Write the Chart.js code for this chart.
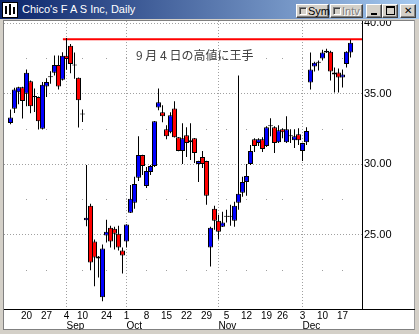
<!DOCTYPE html>
<html>
<head>
<meta charset="utf-8">
<title>Chico's F A S Inc, Daily</title>
<script src="https://cdn.jsdelivr.net/npm/chart.js@4.4.1/dist/chart.umd.min.js"></script>
<style>
  html, body { margin: 0; padding: 0; }
  body {
    position: relative;
    width: 419px;
    height: 334px;
    overflow: hidden;
    background: #d4d0c8;
    font-family: 'Liberation Sans', Arial, sans-serif;
  }
  .titlebar {
    position: absolute; left: 0; top: 0; width: 419px; height: 19px;
    background: linear-gradient(to right, #0a246a 0%, #a6caf0 100%);
  }
  .icon {
    position: absolute; left: 2px; top: 2px; width: 14px; height: 14px;
    background: #fff; border: 1px solid #000;
  }
  .icon i {
    position: absolute; width: 2px; background: #000;
  }
  .title {
    position: absolute; left: 22px; top: 0; height: 19px; line-height: 19px;
    color: #fff; font-size: 11px; white-space: nowrap;
  }
  .btn {
    position: absolute; top: 4px; height: 12px; box-sizing: content-box;
    background: #d4d0c8;
    border-top: 1px solid #fff; border-left: 1px solid #fff;
    border-right: 1px solid #404040; border-bottom: 1px solid #404040;
    box-shadow: inset -1px -1px 0 #808080;
    font-size: 11px; line-height: 12px; color: #000;
  }
  .btn .chk {
    position: absolute; left: 2px; top: 2px; width: 6px; height: 6px;
    border-top: 1px solid #808080; border-left: 1px solid #808080;
    border-right: 1px solid #fff; border-bottom: 1px solid #fff;
    box-shadow: inset 1px 1px 0 #404040;
  }
  .btn .lbl { position: absolute; left: 11px; top: 0; }
  .btn .lbl.off { color: #808080; text-shadow: 1px 1px 0 #fff; }
  .client {
    position: absolute; left: 3px; top: 20px; width: 412px; height: 310px;
    background: #fff;
    border-left: 1px solid #808080; border-top: 1px solid #808080;
    border-right: 1px solid #a0a0a0; border-bottom: 1px solid #808080;
    box-sizing: border-box;
  }
  #chart { position: absolute; left: 4px; top: 21px; }
  .note {
    position: absolute; left: 136px; top: 48px;
    font-family: 'Noto Sans CJK JP', sans-serif; font-size: 12px; line-height: 14px;
    color: #404040; white-space: nowrap;
  }
</style>
</head>
<body>
<div class="titlebar"></div>
<div class="icon"><i style="left:2px;top:3px;height:8px"></i><i style="left:6px;top:1px;height:11px"></i><i style="left:10px;top:4px;height:7px"></i></div>
<div class="title">Chico's F A S Inc, Daily</div>
<div class="btn" style="left:296px;width:31px"><span class="chk"></span><span class="lbl">Sym</span></div>
<div class="btn" style="left:330px;width:31px"><span class="chk"></span><span class="lbl off">Intv</span></div>
<div class="btn" style="left:366px;width:14px"><span style="position:absolute;left:4px;top:8px;width:6px;height:2px;background:#000"></span></div>
<div class="btn" style="left:382px;width:14px"><span style="position:absolute;left:3px;top:1px;width:7px;height:6px;border:1px solid #000;border-top-width:2px"></span></div>
<div class="btn" style="left:400px;width:14px"><span style="position:absolute;left:3px;top:-1px;font-family:'DejaVu Sans';font-size:10px;font-weight:bold;line-height:13px">✕</span></div>
<div class="client"></div>
<canvas id="chart" width="411" height="309"></canvas>
<div class="note">9 月 4 日の高値に王手</div>

<script>
// 日足データ（2001年8月14日〜12月19日）
const dates = [
  '8/14','8/15','8/16','8/17','8/20','8/21','8/22','8/23','8/24','8/27','8/28','8/29','8/30','8/31',
  '9/4','9/5','9/6','9/7','9/10','9/17','9/18','9/19','9/20','9/21','9/24','9/25','9/26','9/27','9/28',
  '10/1','10/2','10/3','10/4','10/5','10/8','10/9','10/10','10/11','10/12','10/15','10/16','10/17','10/18','10/19',
  '10/22','10/23','10/24','10/25','10/26','10/29','10/30','10/31',
  '11/1','11/2','11/5','11/6','11/7','11/8','11/9','11/12','11/13','11/14','11/15','11/16',
  '11/19','11/20','11/21','11/23','11/26','11/27','11/28','11/29','11/30',
  '12/3','12/4','12/5','12/6','12/7','12/10','12/11','12/12','12/13','12/14','12/17','12/18','12/19'
];
const opens = [
  32.93,33.94,35.11,35.46,35.00,35.89,34.76,34.76,32.51,35.51,36.17,36.48,37.04,35.99,
  37.68,38.40,36.99,36.13,33.52,26.03,27.06,24.53,23.47,20.58,24.95,25.51,25.44,25.09,23.89,
  24.53,26.57,27.27,29.04,30.65,28.47,29.46,29.88,34.03,33.68,32.49,32.27,33.96,31.92,30.94,
  32.06,31.57,31.85,30.02,30.51,30.23,24.11,26.85,
  26.01,25.58,26.29,26.29,26.01,27.27,27.98,28.75,30.02,31.78,31.50,31.78,
  31.29,32.70,32.63,31.57,32.49,31.57,31.99,31.71,32.13,
  30.94,31.57,35.80,36.92,37.20,37.49,37.91,37.98,36.36,36.50,36.15,37.11,37.91
];
const highs = [
  33.89,35.42,35.50,35.50,36.71,35.94,35.37,34.80,35.82,36.10,36.59,37.70,37.70,37.93,
  38.95,38.52,37.91,36.15,33.89,29.95,27.20,24.67,23.50,24.32,26.08,25.65,25.58,25.65,24.11,
  25.75,28.54,29.11,31.99,30.67,29.81,29.95,33.07,35.37,34.18,32.77,33.68,34.46,31.94,32.91,
  32.63,32.91,31.87,30.25,30.94,30.25,25.58,27.06,
  26.43,26.64,26.78,27.13,27.35,36.29,29.11,30.02,31.36,31.85,31.85,31.92,
  32.70,33.26,32.70,32.77,32.56,33.40,32.49,32.49,32.56,
  31.52,32.63,37.91,37.27,37.35,38.12,38.19,38.05,36.85,36.78,36.71,38.00,38.82
];
const lows = [
  32.84,33.63,34.25,33.24,34.11,33.61,33.70,32.46,32.46,34.76,35.70,36.29,35.30,35.94,
  36.69,36.45,36.06,32.61,33.00,25.61,22.49,21.36,21.99,20.30,24.46,24.11,23.96,23.89,22.27,
  24.11,26.55,26.85,28.82,29.25,28.33,29.25,29.81,33.82,32.98,31.78,32.20,31.90,30.92,30.02,
  30.51,30.30,30.09,28.75,29.74,27.13,22.77,25.37,
  24.67,25.56,25.87,25.65,25.58,26.78,27.70,27.77,29.95,30.87,31.29,30.87,
  31.22,31.99,30.80,31.50,31.85,31.50,31.50,31.15,31.36,
  30.23,31.36,35.30,36.57,36.64,37.35,37.89,35.94,35.09,35.09,35.44,36.85,37.56
];
const closes = [
  33.31,35.30,35.46,34.48,36.48,34.11,34.76,33.05,35.63,35.82,36.17,37.04,35.51,37.68,
  37.46,37.11,36.99,34.53,33.52,26.22,23.05,23.40,23.33,24.04,25.23,24.53,25.09,24.11,23.54,
  25.73,27.56,28.61,30.65,29.88,29.53,29.88,33.05,34.39,33.40,31.99,33.47,31.92,30.94,31.85,
  31.50,31.71,30.80,30.23,30.02,27.77,25.51,26.01,
  25.23,25.87,26.29,26.29,27.06,27.91,28.75,29.18,30.94,31.29,31.78,31.08,
  32.63,32.70,31.50,32.42,32.27,32.49,31.99,31.99,31.71,
  31.50,32.35,36.71,37.20,37.20,37.91,38.05,36.57,36.50,36.15,36.36,37.98,38.61
];

// 目盛り
const dayTicks = ['8/20','8/27','9/4','9/10','9/24','10/1','10/8','10/15','10/22','10/29',
  '11/5','11/12','11/19','11/26','12/3','12/10','12/17'];
const monthTicks = ['9/4','10/1','11/1','12/3'];
const monthNames = ['Sep','Oct','Nov','Dec'];
const priceTicks = [25, 30, 35, 40];

// 9月4日の高値ライン
const resistFrom = '9/4';
const resistLevel = 38.85;

const UP = '#0000ff', DOWN = '#ff0000';
const xMin = -1.625, xMax = 87.875;
const yMin = 19.752, yMax = 40.149;

function candleColor(i) {
  if (closes[i] > opens[i]) return UP;
  if (closes[i] < opens[i]) return DOWN;
  return '#000';
}

// 補助の点線と軸線
const frame = {
  id: 'frame',
  beforeDatasetsDraw(chart) {
    const { ctx, scales: { x, y } } = chart;
    ctx.save();
    ctx.fillStyle = '#a0a0a0';
    dayTicks.forEach(d => {
      const px = Math.floor(x.getPixelForValue(dates.indexOf(d)));
      priceTicks.forEach(v => {
        const py = Math.floor(y.getPixelForValue(v - 2.5));
        ctx.fillRect(px, py, 1, 1);
      });
    });
    ctx.restore();
  },
  afterDraw(chart) {
    const { ctx, chartArea } = chart;
    ctx.save();
    ctx.fillStyle = '#000';
    ctx.fillRect(0, Math.round(chartArea.bottom), chart.width, 1);
    ctx.restore();
  }
};

const noPad = s => { s.paddingTop = 0; s.paddingBottom = 0; s.paddingLeft = 0; s.paddingRight = 0; };

new Chart(document.getElementById('chart'), {
  type: 'bar',
  data: {
    datasets: [
      {
        label: 'body',
        data: dates.map((d, i) => ({ x: i, y: [opens[i], closes[i]] })),
        backgroundColor: ctx => candleColor(ctx.dataIndex),
        borderColor: '#000',
        borderWidth: 1,
        borderSkipped: false,
        barThickness: 5,
        minBarLength: 1,
        inflateAmount: 0,
        grouped: false
      },
      {
        label: 'wick',
        data: dates.map((d, i) => ({ x: i, y: [lows[i], highs[i]] })),
        backgroundColor: '#000',
        borderWidth: 0,
        barThickness: 1,
        inflateAmount: 0,
        grouped: false
      },
      {
        type: 'line',
        label: 'resist',
        data: [
          { x: dates.indexOf(resistFrom) - 0.9, y: resistLevel },
          { x: xMax, y: resistLevel }
        ],
        borderColor: '#ff0000',
        borderWidth: 2,
        pointRadius: 0,
        fill: false
      }
    ]
  },
  options: {
    responsive: false,
    animation: false,
    devicePixelRatio: 1,
    layout: { padding: 0 },
    plugins: {
      legend: { display: false },
      tooltip: { enabled: false }
    },
    scales: {
      x: {
        type: 'linear', position: 'bottom', min: xMin, max: xMax,
        offset: false, weight: 0,
        grid: { display: false, drawTicks: false, offset: false },
        border: { display: false },
        afterBuildTicks: s => { s.ticks = dayTicks.map(d => ({ value: dates.indexOf(d) })); },
        afterFit: s => { s.height = 11; noPad(s); },
        ticks: {
          autoSkip: false, maxRotation: 0, padding: 1, color: '#000',
          font: { family: 'Liberation Sans', size: 10 },
          callback: v => dates[v].split('/')[1]
        }
      },
      xm: {
        type: 'linear', position: 'bottom', min: xMin, max: xMax,
        offset: false, weight: 1,
        grid: { color: '#a0a0a0', drawTicks: false, offset: false },
        border: { display: false, dash: [1, 2] },
        afterBuildTicks: s => { s.ticks = monthTicks.map(d => ({ value: dates.indexOf(d) })); },
        afterFit: s => { s.height = 10; noPad(s); },
        ticks: {
          autoSkip: false, maxRotation: 0, align: 'start', padding: 0, color: '#000',
          font: { family: 'Liberation Sans', size: 10 },
          callback: (v, i) => monthNames[i]
        }
      },
      y: {
        position: 'right', min: yMin, max: yMax,
        grid: { color: '#a0a0a0', drawTicks: false },
        border: { display: true, color: '#000', width: 1, dash: [1, 2] },
        afterBuildTicks: s => { s.ticks = priceTicks.map(v => ({ value: v })); },
        afterFit: s => { s.width = 53; noPad(s); },
        ticks: {
          padding: 2, color: '#000',
          font: { family: 'Liberation Sans', size: 11 },
          callback: v => v.toFixed(2)
        }
      }
    }
  },
  plugins: [frame]
});
</script>
</body>
</html>
